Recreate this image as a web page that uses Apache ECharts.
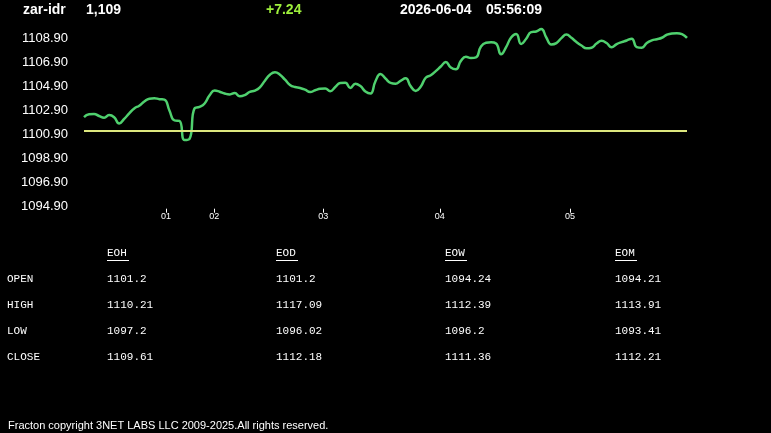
<!DOCTYPE html>
<html>
<head>
<meta charset="utf-8">
<script src="https://cdn.jsdelivr.net/npm/echarts@6/dist/echarts.min.js"></script>
<style>
  html, body { margin: 0; padding: 0; background: #000; }
  #main { width: 771px; height: 433px; }
</style>
</head>
<body>
<div id="main"></div>
<script>
// price samples, evenly spaced in time
var prices = [
  1102.37, 1102.60, 1102.63, 1102.46, 1102.32, 1102.54, 1102.36, 1101.83, 1102.22, 1102.67,
  1103.09, 1103.32, 1103.66, 1103.90, 1103.94, 1103.86, 1103.82, 1102.92, 1102.09, 1102.05,
  1100.45, 1100.55, 1103.10, 1103.21, 1103.50, 1104.18, 1104.58, 1104.48, 1104.33, 1104.26,
  1104.37, 1104.10, 1104.20, 1104.46, 1104.57, 1104.85, 1105.40, 1105.90, 1106.10, 1105.90,
  1105.48, 1105.05, 1104.87, 1104.79, 1104.65, 1104.46, 1104.60, 1104.72, 1104.75, 1104.52,
  1104.88, 1105.20, 1105.22, 1104.80, 1105.15, 1104.95, 1104.50, 1104.33, 1105.35, 1105.95,
  1105.58, 1105.22, 1105.15, 1105.38, 1105.60, 1104.95, 1104.55, 1104.90, 1105.65, 1105.86,
  1106.20, 1106.58, 1106.95, 1106.50, 1106.35, 1107.05, 1107.40, 1107.30, 1107.35, 1108.25,
  1108.56, 1108.60, 1108.50, 1107.60, 1108.20, 1109.00, 1109.30, 1108.45, 1108.90, 1109.45,
  1109.50, 1109.70, 1109.00, 1108.42, 1108.53, 1108.95, 1109.25, 1108.97, 1108.62, 1108.33,
  1108.10, 1108.15, 1108.50, 1108.72, 1108.54, 1108.18, 1108.45, 1108.62, 1108.75, 1108.90,
  1108.20, 1108.15, 1108.54, 1108.76, 1108.86, 1108.98, 1109.23, 1109.34, 1109.36, 1109.28,
  1108.97
];
var openValue = 1101.2;

// x axis labels and where they sit (sample index)
var tickPos = [16.3, 25.9, 47.6, 70.8, 96.7];
var tickLabels = ['01', '02', '03', '04', '05'];

// header
var symbol = 'zar-idr';
var lastPrice = '1,109';
var change = '+7.24';
var dateStr = '2026-06-04';
var timeStr = '05:56:09';

// summary table
var periods = ['EOH', 'EOD', 'EOW', 'EOM'];
var rowNames = ['OPEN', 'HIGH', 'LOW', 'CLOSE'];
var eohVals = ['1101.2', '1110.21', '1097.2', '1109.61'];
var eodVals = ['1101.2', '1117.09', '1096.02', '1112.18'];
var eowVals = ['1094.24', '1112.39', '1096.2', '1111.36'];
var eomVals = ['1094.21', '1113.91', '1093.41', '1112.21'];
var tableCols = [eohVals, eodVals, eowVals, eomVals];

var footer = 'Fracton copyright 3NET LABS LLC 2009-2025.All rights reserved.';

var chart = echarts.init(document.getElementById('main'));

var seriesData = prices.map(function (v, i) { return [i, v]; });

var colX = [107, 276, 445, 615];
var rowY = [279, 305, 331, 357];
var mono = '"Liberation Mono", "DejaVu Sans Mono", monospace';
var sans = '"Liberation Sans", Arial, sans-serif';

var graphics = [];
function txt(x, y, s, font, color) {
  graphics.push({
    type: 'text', x: x, y: y,
    style: { text: s, font: font, fill: color || '#fff', verticalAlign: 'middle' }
  });
}
// header line
txt(23, 10, symbol, 'bold 14px ' + sans);
txt(86, 10, lastPrice, 'bold 14px ' + sans);
txt(266, 10, change, 'bold 14px ' + sans, '#9ef03c');
txt(400, 10, dateStr, 'bold 14px ' + sans);
txt(486, 10, timeStr, 'bold 14px ' + sans);

// table
periods.forEach(function (p, c) {
  txt(colX[c], 253, p, '11px ' + mono);
  graphics.push({
    type: 'line', shape: { x1: colX[c], y1: 260.5, x2: colX[c] + 22, y2: 260.5 },
    style: { stroke: '#fff', lineWidth: 1 }
  });
  tableCols[c].forEach(function (v, r) {
    txt(colX[c], rowY[r], v, '11px ' + mono);
  });
});
rowNames.forEach(function (n, r) {
  txt(7, rowY[r], n, '11px ' + mono);
});
txt(8, 426, footer, '11px ' + sans);

chart.setOption({
  backgroundColor: '#000',
  animation: false,
  grid: { left: 84, right: 84, top: 14.7, bottom: 226.3, containLabel: false },
  xAxis: {
    type: 'value',
    min: 0,
    max: prices.length - 1,
    offset: 2,
    splitLine: { show: false },
    axisLine: { show: false },
    axisTick: {
      show: true, length: 4, customValues: tickPos,
      lineStyle: { color: '#fff', width: 1 }
    },
    axisLabel: {
      customValues: tickPos,
      color: '#fff',
      fontSize: 9,
      margin: 3,
      fontFamily: sans,
      formatter: function (v) {
        var k = tickPos.indexOf(v);
        return k >= 0 ? tickLabels[k] : '';
      }
    }
  },
  yAxis: {
    type: 'value',
    min: 1094.9,
    max: 1110.9,
    interval: 2,
    splitLine: { show: false },
    axisLine: { show: false },
    axisTick: { show: false },
    axisLabel: {
      color: '#fff',
      fontSize: 13,
      fontFamily: sans,
      margin: 16,
      showMaxLabel: false,
      formatter: function (v) { return v.toFixed(2); }
    }
  },
  series: [{
    type: 'line',
    data: seriesData,
    smooth: 0.5,
    showSymbol: false,
    lineStyle: { color: '#4fd06e', width: 2.5 },
    markLine: {
      silent: true,
      symbol: 'none',
      label: { show: false },
      lineStyle: { color: '#dde77e', width: 2, type: 'solid' },
      data: [{ yAxis: openValue }]
    }
  }],
  graphic: graphics
});
</script>
</body>
</html>
